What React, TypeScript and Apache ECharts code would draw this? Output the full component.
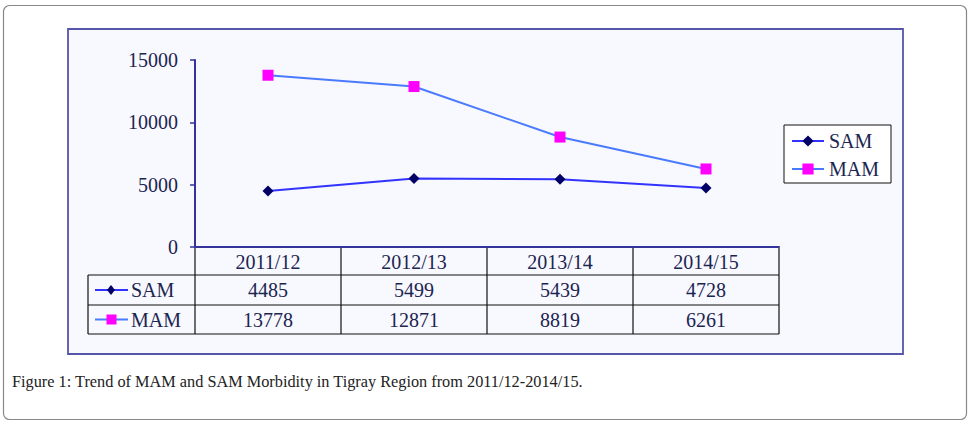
import React, { useEffect, useRef } from "react";
import * as echarts from "echarts";

const categories = ["2011/12", "2012/13", "2013/14", "2014/15"];
const samValues = [4485, 5499, 5439, 4728];
const mamValues = [13778, 12871, 8819, 6261];
const yTicks = { min: 0, max: 15000, interval: 5000 };
const caption = "Figure 1: Trend of MAM and SAM Morbidity in Tigray Region from 2011/12-2014/15.";

const FONT = "Liberation Serif";
const TEXT = "#1b2550";
const SAM_LINE = "#3333FF";
const SAM_MARK = "#000066";
const MAM_LINE = "#4A7BFF";
const MAM_MARK = "#FF00FF";

export default function App() {
  const ref = useRef<HTMLDivElement>(null);
  useEffect(() => {
    if (!ref.current) return;
    const chart = echarts.init(ref.current, null, { renderer: "svg" });
    const gridLeft = 195, gridTop = 60, gridW = 584, gridH = 187;
    const gridBottomY = gridTop + gridH;
    chart.setOption({
      animation: false,
      backgroundColor: "#ffffff",
      textStyle: { fontFamily: FONT },
      grid: { left: gridLeft, top: gridTop, width: gridW, height: gridH, containLabel: false },
      xAxis: {
        type: "category",
        data: categories,
        boundaryGap: true,
        axisLine: { show: true, lineStyle: { color: "#333399", width: 2 } },
        axisTick: { show: false },
        axisLabel: { color: TEXT, fontFamily: FONT, fontSize: 20, margin: 5 },
        splitLine: { show: false },
      },
      yAxis: {
        type: "value",
        min: yTicks.min,
        max: yTicks.max,
        interval: yTicks.interval,
        axisLine: { show: true, lineStyle: { color: "#333399", width: 2 } },
        axisTick: { show: true, length: 5, inside: false, lineStyle: { color: "#333399", width: 1.5 } },
        axisLabel: { color: TEXT, fontFamily: FONT, fontSize: 20, margin: 17, formatter: (v: number) => String(v) },
        splitLine: { show: false },
      },
      legend: {
        left: 784,
        top: 125,
        orient: "vertical",
        itemWidth: 32,
        itemHeight: 14,
        itemGap: 8,
        padding: [6, 12, 4, 7],
        backgroundColor: "#ffffff",
        borderColor: "#111111",
        borderWidth: 1,
        borderRadius: 0,
        textStyle: { color: TEXT, fontFamily: FONT, fontSize: 20 },
        data: ["SAM", "MAM"],
      },
      series: [
        {
          name: "SAM",
          type: "line",
          data: samValues,
          symbol: "diamond",
          symbolSize: 11,
          lineStyle: { color: SAM_LINE, width: 2 },
          itemStyle: { color: SAM_MARK },
        },
        {
          name: "MAM",
          type: "line",
          data: mamValues,
          symbol: "rect",
          symbolSize: 11,
          lineStyle: { color: MAM_LINE, width: 2 },
          itemStyle: { color: MAM_MARK },
        },
      ],
    });

    const centers = categories.map((c) => chart.convertToPixel({ xAxisIndex: 0 }, c) as number);
    const colW = gridW / categories.length;
    const tableLeft = 88;
    const tableRight = gridLeft + gridW;
    const rowTop = [275, 305];
    const rowBottom = 334;
    const lineStyle = { stroke: "#111111", lineWidth: 1.2 };
    const g: any[] = [];
    g.push({ type: "rect", shape: { x: 3.5, y: 5.5, width: 963, height: 414, r: 6 }, style: { fill: "#ffffff", stroke: "#888888", lineWidth: 1.2 }, z: -20, silent: true });
    g.push({ type: "rect", shape: { x: 68, y: 29, width: 835, height: 325 }, style: { fill: "#F8F8FF", stroke: "#5555AA", lineWidth: 1.8 }, z: -10, silent: true });
    [rowTop[0], rowTop[1], rowBottom].forEach((y) => {
      g.push({ type: "line", shape: { x1: tableLeft, y1: y, x2: tableRight, y2: y }, style: lineStyle, silent: true });
    });
    g.push({ type: "line", shape: { x1: tableLeft, y1: rowTop[0], x2: tableLeft, y2: rowBottom }, style: lineStyle, silent: true });
    for (let i = 0; i <= categories.length; i++) {
      const x = gridLeft + colW * i;
      g.push({ type: "line", shape: { x1: x, y1: gridBottomY + 1, x2: x, y2: rowBottom }, style: lineStyle, silent: true });
    }
    const rows = [
      { name: "SAM", values: samValues, line: SAM_LINE, mark: SAM_MARK, kind: "diamond" },
      { name: "MAM", values: mamValues, line: MAM_LINE, mark: MAM_MARK, kind: "rect" },
    ];
    rows.forEach((r, ri) => {
      const cy = (rowTop[ri] + (ri === 0 ? rowTop[1] : rowBottom)) / 2;
      g.push({ type: "line", shape: { x1: 95, y1: cy, x2: 128, y2: cy }, style: { stroke: r.line, lineWidth: 2 }, silent: true });
      if (r.kind === "diamond") {
        g.push({ type: "polygon", shape: { points: [[111, cy - 5], [115, cy], [111, cy + 5], [107, cy]] }, style: { fill: r.mark }, silent: true });
      } else {
        g.push({ type: "rect", shape: { x: 106.5, y: cy - 5, width: 10, height: 10 }, style: { fill: r.mark }, silent: true });
      }
      g.push({ type: "text", x: 131, y: cy, style: { text: r.name, fill: TEXT, fontFamily: FONT, fontSize: 20, align: "left", verticalAlign: "middle" }, silent: true });
      r.values.forEach((v, i) => {
        g.push({ type: "text", x: centers[i], y: cy, style: { text: String(v), fill: TEXT, fontFamily: FONT, fontSize: 20, align: "center", verticalAlign: "middle" }, silent: true });
      });
    });
    g.push({ type: "text", x: 12, y: 381, style: { text: caption, fill: "#222222", fontFamily: FONT, fontSize: 16.3, align: "left", verticalAlign: "middle" }, silent: true });
    chart.setOption({ graphic: g });
    return () => chart.dispose();
  }, []);
  return <div ref={ref} style={{ position: "fixed", left: 0, top: 0, width: 970, height: 423 }} />;
}
